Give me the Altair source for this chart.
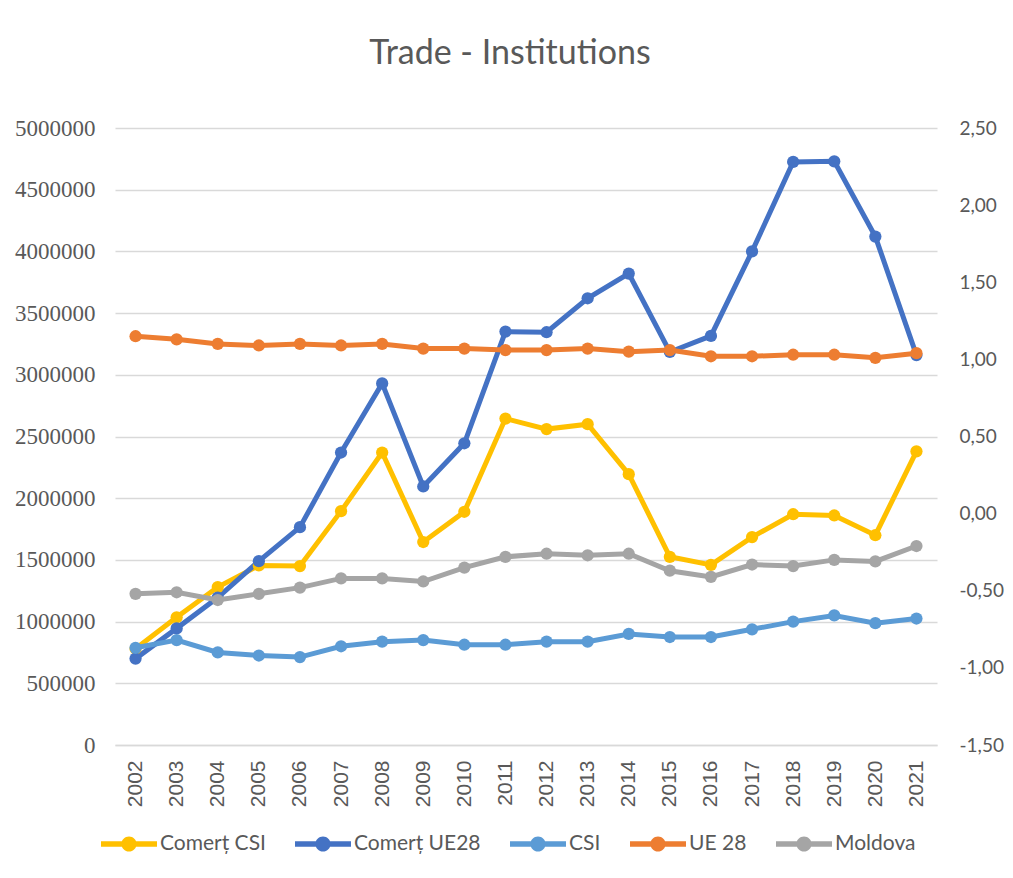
import altair as alt
import pandas as pd

# ---------------- data ----------------
years = ["2002", "2003", "2004", "2005", "2006", "2007", "2008", "2009", "2010", "2011",
         "2012", "2013", "2014", "2015", "2016", "2017", "2018", "2019", "2020", "2021"]

comert_csi = [780000, 1035000, 1280000, 1455000, 1450000, 1895000, 2370000, 1645000, 1890000, 2645000,
              2560000, 2600000, 2195000, 1525000, 1460000, 1685000, 1870000, 1860000, 1700000, 2380000]
comert_ue28 = [700000, 945000, 1195000, 1490000, 1765000, 2370000, 2930000, 2095000, 2445000, 3350000,
               3345000, 3620000, 3820000, 3185000, 3315000, 4000000, 4725000, 4730000, 4120000, 3160000]
csi = [-0.87, -0.82, -0.90, -0.92, -0.93, -0.86, -0.83, -0.82, -0.85, -0.85,
       -0.83, -0.83, -0.78, -0.80, -0.80, -0.75, -0.70, -0.66, -0.71, -0.68]
ue28 = [1.15, 1.13, 1.10, 1.09, 1.10, 1.09, 1.10, 1.07, 1.07, 1.06,
        1.06, 1.07, 1.05, 1.06, 1.02, 1.02, 1.03, 1.03, 1.01, 1.04]
moldova = [-0.52, -0.51, -0.56, -0.52, -0.48, -0.42, -0.42, -0.44, -0.35, -0.28,
           -0.26, -0.27, -0.26, -0.37, -0.41, -0.33, -0.34, -0.30, -0.31, -0.21]

series_names = ["Comerț CSI", "Comerț UE28", "CSI", "UE 28", "Moldova"]
series_colors = ["#FFC000", "#4472C4", "#5B9BD5", "#ED7D31", "#A5A5A5"]
series_axis = ["left", "left", "right", "right", "right"]
series_values = [comert_csi, comert_ue28, csi, ue28, moldova]

left_ticks = [0, 500000, 1000000, 1500000, 2000000, 2500000, 3000000, 3500000, 4000000, 4500000, 5000000]
right_ticks = [-1.5, -1.0, -0.5, 0.0, 0.5, 1.0, 1.5, 2.0, 2.5]

rows = []
for name, vals, ax in zip(series_names, series_values, series_axis):
    for yr, v in zip(years, vals):
        rows.append({"year": yr, "series": name, "value": v, "axis": ax})
df = pd.DataFrame(rows)

TXT = "#595959"
GRID = "#D9D9D9"

# lines: 'stroke' channel, same colours but domain listed in reverse order so that
# Vega-Lite does not merge its (disabled) legend with the colour legend
stroke_enc = alt.Stroke("series:N",
                        scale=alt.Scale(domain=series_names[::-1], range=series_colors[::-1]),
                        legend=None)

legend_path = ("M-1,-0.1L1,-0.1L1,0.1L-1,0.1Z "
               "M-0.27,0A0.27,0.27,0,1,1,0.27,0A0.27,0.27,0,1,1,-0.27,0Z")
color_legend = alt.Color(
    "series:N", scale=alt.Scale(domain=series_names, range=series_colors),
    legend=alt.Legend(
        title=None, orient="none", legendX=-14, legendY=688, direction="horizontal",
        columns=5, symbolType=legend_path, symbolSize=3136, symbolStrokeWidth=0,
        labelFont="Lato", labelFontSize=21, labelColor=TXT, labelOffset=3,
        columnPadding=29, padding=0, labelLimit=300,
    ),
)

x_enc = alt.X(
    "year:O", sort=years,
    scale=alt.Scale(type="point", padding=0.5),
    axis=alt.Axis(title=None, labelAngle=270, labelFont="Liberation Sans", labelFontSize=21,
                  labelColor=TXT, labelPadding=15, ticks=False, domainColor=GRID,
                  domainWidth=1.5, grid=False),
)

y_left = alt.Y(
    "value:Q", scale=alt.Scale(domain=[0, 5000000], nice=False, zero=False),
    axis=alt.Axis(title=None, values=left_ticks, format="d", labelFont="Liberation Serif",
                  labelFontSize=23, labelColor=TXT, labelPadding=20, ticks=False,
                  domain=False, grid=True, gridColor=GRID, gridWidth=1.5),
)
y_right = alt.Y(
    "value:Q", scale=alt.Scale(domain=[-1.5, 2.5], nice=False, zero=False),
    axis=alt.Axis(orient="right", title=None, values=right_ticks,
                  labelExpr="replace(replace(format(datum.value, '.2f'), '.', ','), '\u2212', '-')",
                  labelFont="Lato", labelFontSize=19, labelColor=TXT, labelPadding=22,
                  ticks=False, domain=False, grid=False),
)

base = alt.Chart(df)

left_base = base.transform_filter("datum.axis == 'left'")
right_base = base.transform_filter("datum.axis == 'right'")

left = alt.layer(
    left_base.mark_line(strokeWidth=5).encode(x=x_enc, y=y_left, stroke=stroke_enc,
                                              detail="series:N"),
    left_base.mark_point(filled=True, shape="circle", size=150, opacity=1).encode(
        x=x_enc, y=y_left, color=color_legend),
)
right = alt.layer(
    right_base.mark_line(strokeWidth=5).encode(x=x_enc, y=y_right, stroke=stroke_enc,
                                               detail="series:N"),
    right_base.mark_point(filled=True, shape="circle", size=150, opacity=1).encode(
        x=x_enc, y=y_right, color=color_legend),
)

chart = (
    alt.layer(left, right)
    .resolve_scale(y="independent")
    .properties(
        width=822,
        height=617,
        title=alt.TitleParams("Trade - Institutions", font="Lato", fontSize=34,
                              fontWeight="normal", color=TXT, anchor="middle",
                              baseline="bottom", offset=12, dx=-16),
        autosize=alt.AutoSizeParams(type="none"),
        padding={"left": 107, "top": 120, "right": 68, "bottom": 125},
    )
    .configure_view(stroke=None)
)

chart.save("out.html", embed_options={"renderer": "svg", "actions": False})
